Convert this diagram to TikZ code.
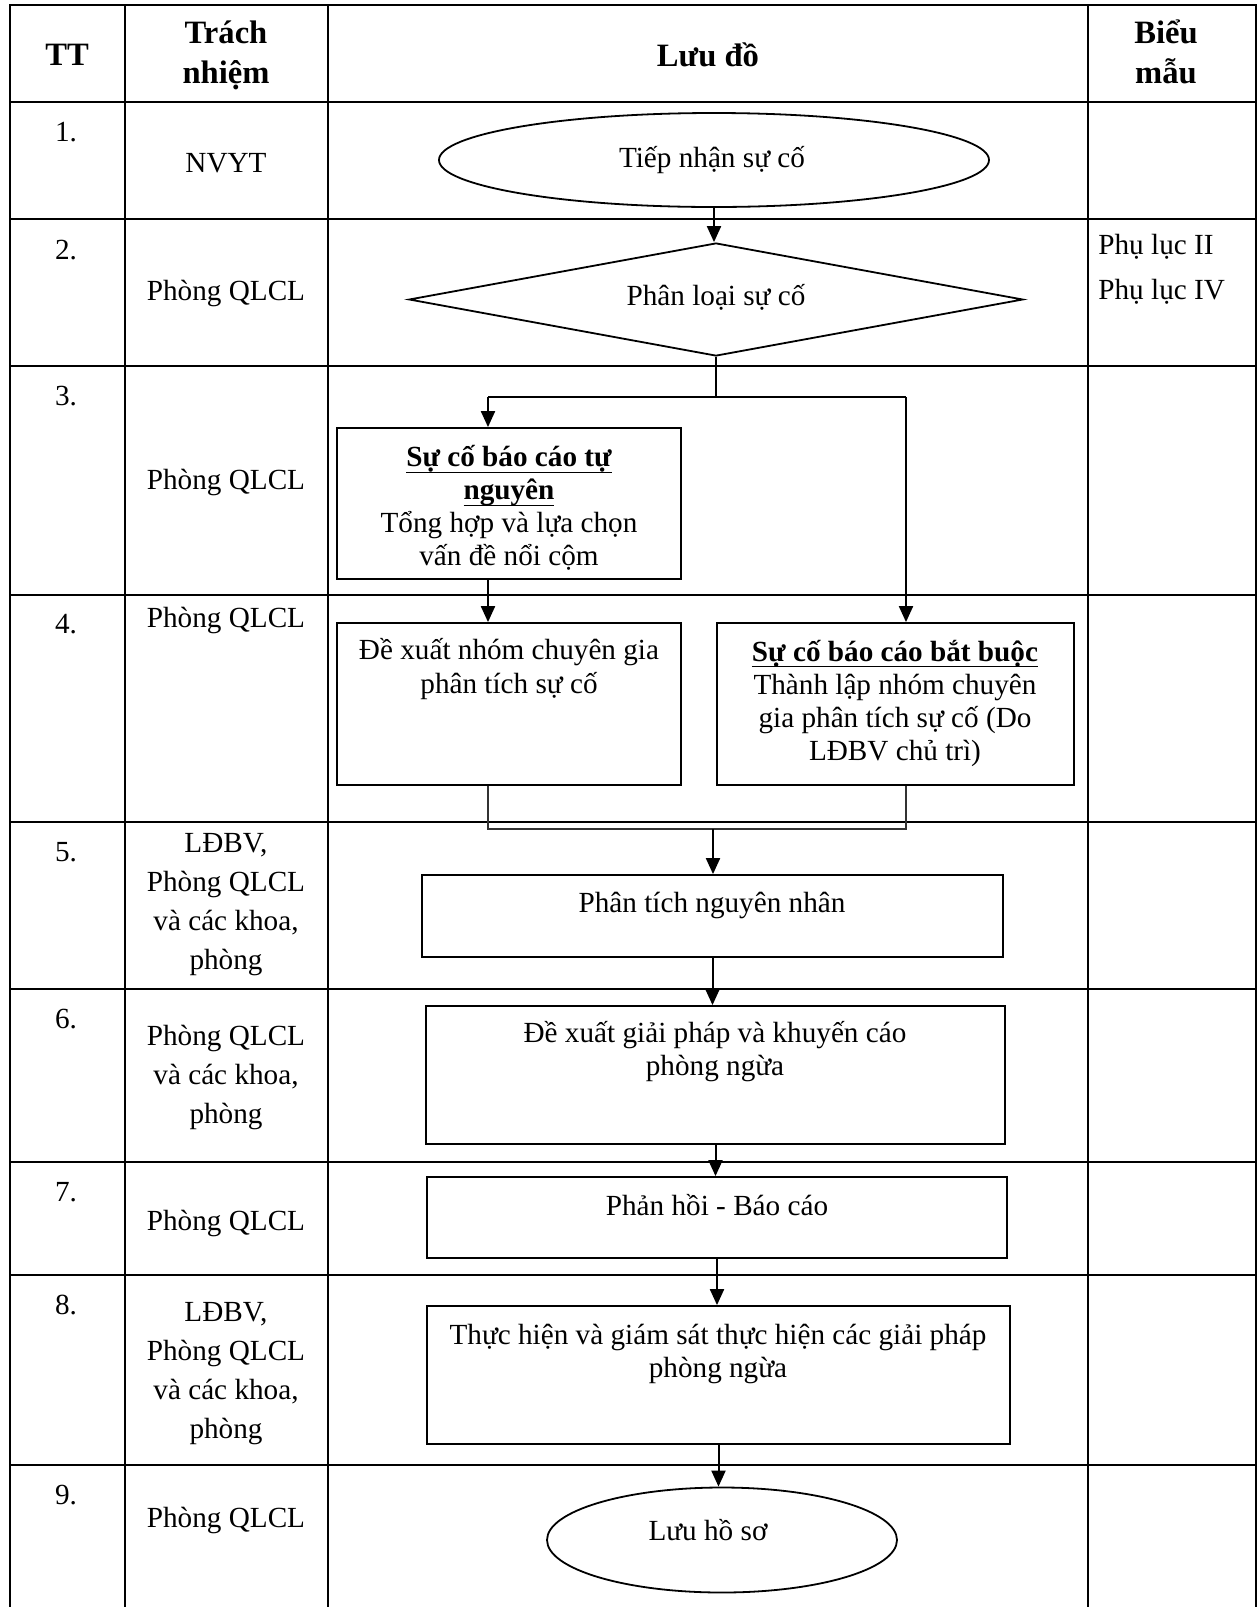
\documentclass[tikz,border=0pt]{standalone}
\usepackage{fontspec}
\setmainfont{Liberation Serif}
\usetikzlibrary{shapes.geometric,arrows.meta,fit}
\newcommand{\uln}[1]{\underline{\raisebox{0pt}[\height][1.5pt]{#1}}}
\begin{document}
\begin{tikzpicture}[x=0.5pt,y=-0.5pt,
  grid/.style={line width=1.3pt,line cap=rect},
  box/.style={draw,line width=0.9pt,inner sep=0pt},
  arr/.style={line width=1pt,-{Triangle[length=8pt,width=7pt]}},
  conn/.style={line width=1pt},
  thinconn/.style={line width=0.8pt,black!80},
  body/.style={font=\fontsize{14.6pt}{16.5pt}\selectfont,align=center,inner sep=0pt},
  cell/.style={font=\fontsize{14.6pt}{19.5pt}\selectfont,align=center,inner sep=0pt},
  head/.style={font=\fontsize{16.3pt}{20pt}\selectfont\bfseries,align=center,inner sep=0pt}]
\useasboundingbox (0,0) rectangle (1258,1607);

% table grid
\foreach \y in {5,102,219,366,595,822,989,1162,1275,1465}
  \draw[grid] (10,\y) -- (1256,\y);
\foreach \x in {10,125,328,1088,1256}
  \draw[grid] (\x,5) -- (\x,1607);

% header
\node[head] (hTT) at (67,55) {TT};
\node[head] (hTN) at (226,55) {Trách\\nhiệm};
\node[head] (hLD) at (708,55) {Lưu đồ};
\node[head] (hBM) at (1166,52) {Biểu\\mẫu};

% numbers
\node[cell] (n1) at (66,132) {1.};
\node[cell] (n2) at (66,250) {2.};
\node[cell] (n3) at (66,396) {3.};
\node[cell] (n4) at (66,624) {4.};
\node[cell] (n5) at (66,852) {5.};
\node[cell] (n6) at (66,1019) {6.};
\node[cell] (n7) at (66,1192) {7.};
\node[cell] (n8) at (66,1305) {8.};
\node[cell] (n9) at (66,1495) {9.};

% responsibilities
\node[cell] (r1) at (226,163) {NVYT};
\node[cell] (r2) at (226,293) {Phòng QLCL};
\node[cell] (r3) at (226,482) {Phòng QLCL};
\node[cell] (r4) at (226,620) {Phòng QLCL};
\node[cell] (r5) at (226,905) {LĐBV,\\Phòng QLCL\\và các khoa,\\phòng};
\node[cell] (r6) at (226,1077) {Phòng QLCL\\và các khoa,\\phòng};
\node[cell] (r7) at (226,1223) {Phòng QLCL};
\node[cell] (r8) at (226,1374) {LĐBV,\\Phòng QLCL\\và các khoa,\\phòng};
\node[cell] (r9) at (226,1520) {Phòng QLCL};

% forms
\node[cell,anchor=west] (pl2) at (1098,247) {Phụ lục II};
\node[cell,anchor=west] (pl4) at (1098,292) {Phụ lục IV};

% flowchart shapes
\node[box,ellipse,minimum width=275pt,minimum height=47pt] (e1) at (714,160) {};
\node[box,diamond,minimum width=307pt,minimum height=56.5pt] (d) at (716,299.5) {};
\node[box,fit={(337,428) (681,579)}] (b3) {};
\node[box,fit={(337,623) (681,785)}] (b4l) {};
\node[box,fit={(717,623) (1074,785)}] (b4r) {};
\node[box,fit={(422,875) (1003,957)}] (b5) {};
\node[box,fit={(426,1006) (1005,1144)}] (b6) {};
\node[box,fit={(427,1177) (1007,1258)}] (b7) {};
\node[box,fit={(427,1306) (1010,1444)}] (b8) {};
\node[box,ellipse,minimum width=175pt,minimum height=52.5pt] (e2) at (722,1540) {};

% flowchart texts
\node[body] (t1) at (712,160) {Tiếp nhận sự cố};
\node[body] (t2) at (716,297) {Phân loại sự cố};
\node[body] (t3) at (509,507.5) {\textbf{\uln{Sự cố báo cáo tự}}\\\textbf{\uln{nguyên}}\\Tổng hợp và lựa chọn\\vấn đề nổi cộm};
\node[body,font=\fontsize{14.6pt}{17pt}\selectfont] (t4l) at (509,669.5) {Đề xuất nhóm chuyên gia\\phân tích sự cố};
\node[body] (t4r) at (895,703) {\textbf{\uln{Sự cố báo cáo bắt buộc}}\\Thành lập nhóm chuyên\\gia phân tích sự cố (Do\\LĐBV chủ trì)};
\node[body] (t5) at (712,905) {Phân tích nguyên nhân};
\node[body] (t6) at (715,1051.5) {Đề xuất giải pháp và khuyến cáo\\phòng ngừa};
\node[body] (t7) at (717,1205) {Phản hồi - Báo cáo};
\node[body] (t8) at (718,1353.5) {Thực hiện và giám sát thực hiện các giải pháp\\phòng ngừa};
\node[body] (t9) at (708,1530) {Lưu hồ sơ};

% connectors
\coordinate (jc) at (716,397);
\coordinate (jl) at (488,397);
\coordinate (jr) at (906,397);
\coordinate (mc) at (713,829);
\draw[arr] (e1.south) -- (e1.south |- d.north);
\draw[conn] (d.south) -- (jc);
\draw[conn] (jl) -- (jr);
\draw[arr] (jl) -- (jl |- b3.north);
\draw[arr] (jr) -- (jr |- b4r.north);
\draw[arr] (jl |- b3.south) -- (jl |- b4l.north);
\draw[thinconn] (jl |- b4l.south) |- (mc) -| (jr |- b4r.south);
\draw[arr] (mc) -- (mc |- b5.north);
\draw[arr] (b5.south) -- (b5.south |- b6.north);
\draw[arr] (b6.south) -- (b6.south |- b7.north);
\draw[arr] (b7.south) -- (b7.south |- b8.north);
\draw[arr] (b8.south) -- (b8.south |- e2.north);
\end{tikzpicture}
\end{document}
